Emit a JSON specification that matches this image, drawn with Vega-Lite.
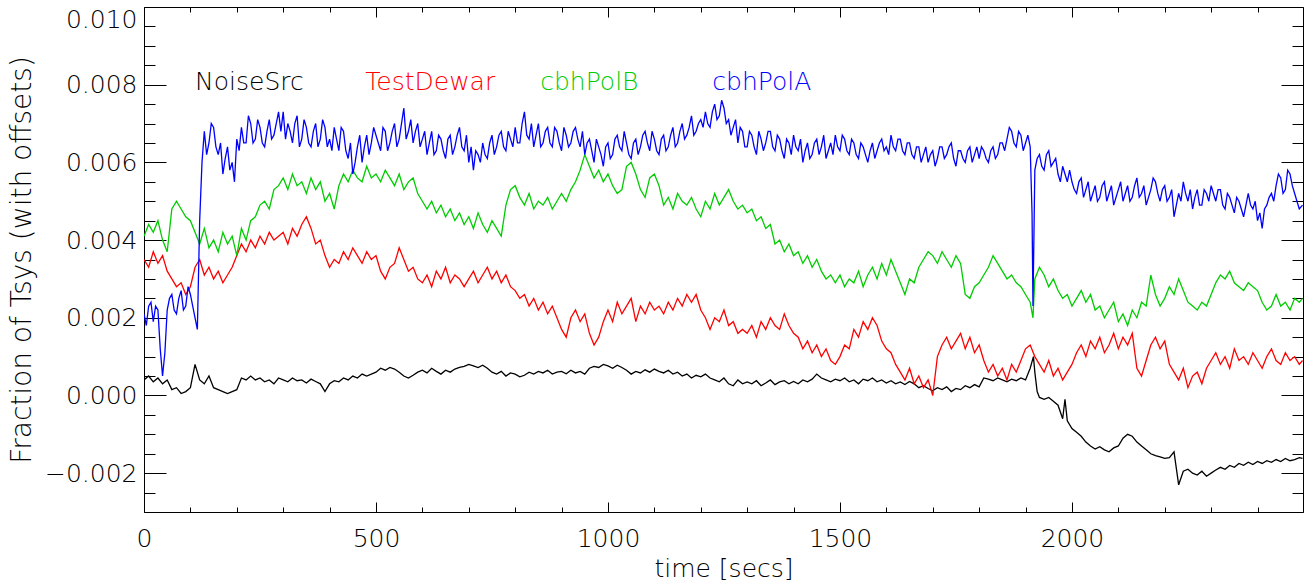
{
"$schema": "https://vega.github.io/schema/vega-lite/v6.json",
"width": 1159, "height": 505,
"autosize": {"type": "none"},
"padding": {"left": 144, "top": 7, "right": 6, "bottom": 75},
"config": {
 "view": {"stroke": "#000", "strokeWidth": 1},
 "axis": {"labelFont": "DejaVu Sans", "titleFont": "DejaVu Sans", "labelFontWeight": 200, "titleFontWeight": 200, "labelColor": "#000", "titleColor": "#000", "tickColor": "#000", "tickWidth": 1, "domain": false, "grid": false, "labelOverlap": false}
},
"layer": [
 {
  "data": {"values": [
{"t":0,"N":0.0004,"T":0.0035,"G":0.0041,"B":0.0021},
{"t":10,"N":0.0005,"T":0.0033,"G":0.0044,"B":0.0023},
{"t":20,"N":0.00035,"T":0.0037,"G":0.0042,"B":0.0019},
{"t":30,"N":0.00045,"T":0.0034,"G":0.0045,"B":0.0022},
{"t":40,"N":0.0003,"T":0.0036,"G":0.004,"B":0.0005},
{"t":50,"N":0.0004,"T":0.0032,"G":0.0037,"B":0.0022},
{"t":60,"N":0.00015,"T":0.003,"G":0.0048,"B":0.0026},
{"t":70,"N":0.0002,"T":0.0028,"G":0.005,"B":0.0021},
{"t":80,"N":0.00005,"T":0.0029,"G":0.0048,"B":0.0027},
{"t":90,"N":0.0001,"T":0.0026,"G":0.0046,"B":0.0023},
{"t":100,"N":0.0002,"T":0.0028,"G":0.0045,"B":0.0026},
{"t":110,"N":0.0008,"T":0.0033,"G":0.0042,"B":0.002},
{"t":120,"N":0.0004,"T":0.0035,"G":0.0039,"B":0.0045},
{"t":130,"N":0.0003,"T":0.0031,"G":0.0043,"B":0.0068},
{"t":140,"N":0.0005,"T":0.0033,"G":0.0038,"B":0.0065},
{"t":150,"N":0.0002,"T":0.003,"G":0.004,"B":0.0069},
{"t":160,"N":0.00015,"T":0.0032,"G":0.0037,"B":0.0062},
{"t":170,"N":0.0001,"T":0.0029,"G":0.0042,"B":0.0057},
{"t":180,"N":0.00005,"T":0.0031,"G":0.0039,"B":0.0064},
{"t":190,"N":0.0001,"T":0.0033,"G":0.0041,"B":0.006},
{"t":200,"N":0.00015,"T":0.0036,"G":0.0036,"B":0.0066},
{"t":210,"N":0.00045,"T":0.0039,"G":0.0043,"B":0.0069},
{"t":220,"N":0.0004,"T":0.0037,"G":0.004,"B":0.0065},
{"t":230,"N":0.0005,"T":0.004,"G":0.0045,"B":0.007},
{"t":240,"N":0.0004,"T":0.0038,"G":0.0046,"B":0.0066},
{"t":250,"N":0.00045,"T":0.0041,"G":0.0049,"B":0.0069},
{"t":260,"N":0.00035,"T":0.0039,"G":0.005,"B":0.0064},
{"t":270,"N":0.0004,"T":0.0042,"G":0.0048,"B":0.0071},
{"t":280,"N":0.0003,"T":0.004,"G":0.0053,"B":0.0067},
{"t":290,"N":0.00045,"T":0.0041,"G":0.0054,"B":0.0073},
{"t":300,"N":0.0004,"T":0.0042,"G":0.0056,"B":0.0073},
{"t":310,"N":0.00035,"T":0.0039,"G":0.0053,"B":0.007},
{"t":320,"N":0.00045,"T":0.0043,"G":0.0057,"B":0.0065},
{"t":330,"N":0.00038,"T":0.0041,"G":0.0054,"B":0.0072},
{"t":340,"N":0.0004,"T":0.0044,"G":0.0055,"B":0.0066},
{"t":350,"N":0.00032,"T":0.0046,"G":0.0052,"B":0.0069},
{"t":360,"N":0.00042,"T":0.0043,"G":0.0056,"B":0.0064},
{"t":370,"N":0.00036,"T":0.0039,"G":0.0053,"B":0.007},
{"t":380,"N":0.0003,"T":0.004,"G":0.0055,"B":0.0066},
{"t":390,"N":0.0001,"T":0.0036,"G":0.005,"B":0.0069},
{"t":400,"N":0.0003,"T":0.0033,"G":0.0052,"B":0.0066},
{"t":410,"N":0.00038,"T":0.0035,"G":0.0048,"B":0.0069},
{"t":420,"N":0.00035,"T":0.0034,"G":0.0054,"B":0.0063},
{"t":430,"N":0.00045,"T":0.0037,"G":0.0057,"B":0.0068},
{"t":440,"N":0.0004,"T":0.0035,"G":0.0055,"B":0.0061},
{"t":450,"N":0.0005,"T":0.0038,"G":0.0058,"B":0.0057},
{"t":460,"N":0.00045,"T":0.0036,"G":0.0056,"B":0.0064},
{"t":470,"N":0.00055,"T":0.0034,"G":0.0055,"B":0.006},
{"t":480,"N":0.0005,"T":0.0037,"G":0.0059,"B":0.0067},
{"t":490,"N":0.00055,"T":0.0035,"G":0.0056,"B":0.0065},
{"t":500,"N":0.0006,"T":0.0036,"G":0.0057,"B":0.0067},
{"t":510,"N":0.0007,"T":0.0032,"G":0.0055,"B":0.0063},
{"t":520,"N":0.00065,"T":0.003,"G":0.0058,"B":0.0068},
{"t":530,"N":0.00072,"T":0.0033,"G":0.0056,"B":0.0065},
{"t":540,"N":0.00068,"T":0.0034,"G":0.0054,"B":0.007},
{"t":550,"N":0.0006,"T":0.0038,"G":0.0057,"B":0.0066},
{"t":560,"N":0.0005,"T":0.0035,"G":0.0053,"B":0.0074},
{"t":570,"N":0.00045,"T":0.0032,"G":0.0055,"B":0.0068},
{"t":580,"N":0.00052,"T":0.0033,"G":0.0056,"B":0.0065},
{"t":590,"N":0.0006,"T":0.003,"G":0.0052,"B":0.007},
{"t":600,"N":0.00065,"T":0.0029,"G":0.005,"B":0.0066},
{"t":610,"N":0.00058,"T":0.0031,"G":0.0048,"B":0.0062},
{"t":620,"N":0.0007,"T":0.0028,"G":0.005,"B":0.0068},
{"t":630,"N":0.00062,"T":0.0032,"G":0.0047,"B":0.0063},
{"t":640,"N":0.00055,"T":0.003,"G":0.0049,"B":0.0066},
{"t":650,"N":0.00065,"T":0.0033,"G":0.0046,"B":0.0061},
{"t":660,"N":0.0006,"T":0.0029,"G":0.0048,"B":0.0067},
{"t":670,"N":0.00068,"T":0.0031,"G":0.0045,"B":0.0064},
{"t":680,"N":0.00072,"T":0.003,"G":0.0047,"B":0.0069},
{"t":690,"N":0.00075,"T":0.0028,"G":0.0044,"B":0.0063},
{"t":700,"N":0.0008,"T":0.003,"G":0.0046,"B":0.006},
{"t":710,"N":0.00076,"T":0.0032,"G":0.0043,"B":0.0058},
{"t":720,"N":0.00072,"T":0.0029,"G":0.0047,"B":0.0062},
{"t":730,"N":0.00078,"T":0.0031,"G":0.0044,"B":0.0065},
{"t":740,"N":0.0007,"T":0.0033,"G":0.0042,"B":0.0061},
{"t":750,"N":0.0006,"T":0.003,"G":0.0045,"B":0.0067},
{"t":760,"N":0.00055,"T":0.0032,"G":0.0043,"B":0.0064},
{"t":770,"N":0.00062,"T":0.0029,"G":0.0041,"B":0.0068},
{"t":780,"N":0.0005,"T":0.0031,"G":0.0049,"B":0.0063},
{"t":790,"N":0.00058,"T":0.0028,"G":0.0053,"B":0.0066},
{"t":800,"N":0.00055,"T":0.0027,"G":0.0054,"B":0.0069},
{"t":810,"N":0.00048,"T":0.0025,"G":0.0051,"B":0.0065},
{"t":820,"N":0.00052,"T":0.0026,"G":0.0049,"B":0.0073},
{"t":830,"N":0.0006,"T":0.0023,"G":0.0052,"B":0.0066},
{"t":840,"N":0.00055,"T":0.0025,"G":0.0048,"B":0.0064},
{"t":850,"N":0.00062,"T":0.0022,"G":0.005,"B":0.007},
{"t":860,"N":0.00058,"T":0.0024,"G":0.0049,"B":0.0065},
{"t":870,"N":0.00065,"T":0.0021,"G":0.0051,"B":0.0069},
{"t":880,"N":0.00055,"T":0.0023,"G":0.0048,"B":0.0064},
{"t":890,"N":0.0006,"T":0.002,"G":0.005,"B":0.0068},
{"t":900,"N":0.00062,"T":0.0017,"G":0.0052,"B":0.0063},
{"t":910,"N":0.00056,"T":0.0015,"G":0.005,"B":0.0067},
{"t":920,"N":0.00065,"T":0.002,"G":0.0053,"B":0.0065},
{"t":930,"N":0.00058,"T":0.0022,"G":0.0055,"B":0.0069},
{"t":940,"N":0.00062,"T":0.0019,"G":0.0058,"B":0.0064},
{"t":950,"N":0.00055,"T":0.0021,"G":0.0062,"B":0.0062},
{"t":960,"N":0.0007,"T":0.0016,"G":0.0059,"B":0.0066},
{"t":970,"N":0.00075,"T":0.0013,"G":0.0056,"B":0.006},
{"t":980,"N":0.00072,"T":0.0015,"G":0.0058,"B":0.0064},
{"t":990,"N":0.0008,"T":0.0019,"G":0.0055,"B":0.0059},
{"t":1000,"N":0.00076,"T":0.0022,"G":0.0057,"B":0.0065},
{"t":1010,"N":0.0007,"T":0.0019,"G":0.0054,"B":0.0062},
{"t":1020,"N":0.00078,"T":0.0024,"G":0.0052,"B":0.0067},
{"t":1030,"N":0.00072,"T":0.0021,"G":0.0053,"B":0.0063},
{"t":1040,"N":0.00065,"T":0.0023,"G":0.0059,"B":0.0065},
{"t":1050,"N":0.00055,"T":0.0025,"G":0.006,"B":0.0061},
{"t":1060,"N":0.00062,"T":0.0019,"G":0.0057,"B":0.0066},
{"t":1070,"N":0.00058,"T":0.0023,"G":0.0053,"B":0.0064},
{"t":1080,"N":0.00066,"T":0.0021,"G":0.0051,"B":0.0068},
{"t":1090,"N":0.0006,"T":0.0024,"G":0.0056,"B":0.0063},
{"t":1100,"N":0.00068,"T":0.0022,"G":0.0057,"B":0.0066},
{"t":1110,"N":0.00062,"T":0.0023,"G":0.0054,"B":0.0062},
{"t":1120,"N":0.00058,"T":0.0021,"G":0.0049,"B":0.0067},
{"t":1130,"N":0.00065,"T":0.0024,"G":0.0051,"B":0.0064},
{"t":1140,"N":0.00055,"T":0.0022,"G":0.0048,"B":0.0069},
{"t":1150,"N":0.0006,"T":0.0025,"G":0.0052,"B":0.0065},
{"t":1160,"N":0.0005,"T":0.0023,"G":0.005,"B":0.007},
{"t":1170,"N":0.00055,"T":0.0026,"G":0.0049,"B":0.0067},
{"t":1180,"N":0.00045,"T":0.0024,"G":0.0051,"B":0.0072},
{"t":1190,"N":0.00052,"T":0.0026,"G":0.0048,"B":0.0068},
{"t":1200,"N":0.00048,"T":0.0022,"G":0.0046,"B":0.0071},
{"t":1210,"N":0.00055,"T":0.002,"G":0.005,"B":0.0073},
{"t":1220,"N":0.00045,"T":0.0017,"G":0.0048,"B":0.0069},
{"t":1230,"N":0.0004,"T":0.002,"G":0.0052,"B":0.0075},
{"t":1240,"N":0.00035,"T":0.0019,"G":0.0049,"B":0.0072},
{"t":1250,"N":0.00045,"T":0.0022,"G":0.0051,"B":0.0074},
{"t":1260,"N":0.0003,"T":0.0018,"G":0.0053,"B":0.0071},
{"t":1270,"N":0.00025,"T":0.0019,"G":0.005,"B":0.0069},
{"t":1280,"N":0.0004,"T":0.0016,"G":0.0048,"B":0.0065},
{"t":1290,"N":0.0003,"T":0.0017,"G":0.0049,"B":0.0068},
{"t":1300,"N":0.00035,"T":0.0016,"G":0.0047,"B":0.0064},
{"t":1310,"N":0.0003,"T":0.0018,"G":0.0048,"B":0.0067},
{"t":1320,"N":0.00038,"T":0.0015,"G":0.0045,"B":0.0062},
{"t":1330,"N":0.00025,"T":0.0019,"G":0.0046,"B":0.0066},
{"t":1340,"N":0.00032,"T":0.0017,"G":0.0043,"B":0.0065},
{"t":1350,"N":0.0004,"T":0.002,"G":0.0044,"B":0.0068},
{"t":1360,"N":0.00028,"T":0.0018,"G":0.0039,"B":0.0063},
{"t":1370,"N":0.00035,"T":0.0017,"G":0.004,"B":0.0066},
{"t":1380,"N":0.00038,"T":0.0021,"G":0.0037,"B":0.0061},
{"t":1390,"N":0.0003,"T":0.0018,"G":0.0039,"B":0.0065},
{"t":1400,"N":0.00036,"T":0.0016,"G":0.0036,"B":0.0067},
{"t":1410,"N":0.0003,"T":0.0015,"G":0.0037,"B":0.0063},
{"t":1420,"N":0.0004,"T":0.0012,"G":0.0034,"B":0.006},
{"t":1430,"N":0.00035,"T":0.0014,"G":0.0036,"B":0.0065},
{"t":1440,"N":0.00042,"T":0.0011,"G":0.0033,"B":0.0062},
{"t":1450,"N":0.00055,"T":0.0013,"G":0.0035,"B":0.0066},
{"t":1460,"N":0.00045,"T":0.001,"G":0.0032,"B":0.0064},
{"t":1470,"N":0.0004,"T":0.0012,"G":0.003,"B":0.0061},
{"t":1480,"N":0.00035,"T":0.0009,"G":0.0031,"B":0.0065},
{"t":1490,"N":0.00042,"T":0.0008,"G":0.0029,"B":0.0067},
{"t":1500,"N":0.00038,"T":0.001,"G":0.0031,"B":0.0063},
{"t":1510,"N":0.00045,"T":0.0013,"G":0.0028,"B":0.0066},
{"t":1520,"N":0.00035,"T":0.0012,"G":0.003,"B":0.0062},
{"t":1530,"N":0.0004,"T":0.0017,"G":0.0029,"B":0.0065},
{"t":1540,"N":0.0003,"T":0.0015,"G":0.0032,"B":0.0061},
{"t":1550,"N":0.00042,"T":0.0019,"G":0.0028,"B":0.0064},
{"t":1560,"N":0.00038,"T":0.0017,"G":0.0031,"B":0.006},
{"t":1570,"N":0.00045,"T":0.002,"G":0.0033,"B":0.0065},
{"t":1580,"N":0.00035,"T":0.0018,"G":0.003,"B":0.0063},
{"t":1590,"N":0.0004,"T":0.0014,"G":0.0034,"B":0.0066},
{"t":1600,"N":0.00032,"T":0.0012,"G":0.0031,"B":0.0064},
{"t":1610,"N":0.00038,"T":0.0011,"G":0.0035,"B":0.0067},
{"t":1620,"N":0.0003,"T":0.0008,"G":0.0032,"B":0.0063},
{"t":1630,"N":0.00035,"T":0.0006,"G":0.0029,"B":0.0066},
{"t":1640,"N":0.00028,"T":0.0004,"G":0.0026,"B":0.0062},
{"t":1650,"N":0.00036,"T":0.0007,"G":0.003,"B":0.0065},
{"t":1660,"N":0.0003,"T":0.0003,"G":0.0029,"B":0.0061},
{"t":1670,"N":0.0002,"T":0.0005,"G":0.0033,"B":0.0064},
{"t":1680,"N":0.00025,"T":0.0002,"G":0.0035,"B":0.0062},
{"t":1690,"N":0.00018,"T":0.0004,"G":0.0037,"B":0.006},
{"t":1700,"N":0.00012,"T":0.0,"G":0.0036,"B":0.0063},
{"t":1710,"N":0.0002,"T":0.001,"G":0.0034,"B":0.0061},
{"t":1720,"N":0.00015,"T":0.0013,"G":0.0037,"B":0.0064},
{"t":1730,"N":0.00022,"T":0.0015,"G":0.0035,"B":0.0062},
{"t":1740,"N":0.0001,"T":0.0012,"G":0.0033,"B":0.0065},
{"t":1750,"N":0.00018,"T":0.0014,"G":0.0036,"B":0.0059},
{"t":1760,"N":0.00015,"T":0.0016,"G":0.0034,"B":0.0063},
{"t":1770,"N":0.00025,"T":0.0012,"G":0.0026,"B":0.006},
{"t":1780,"N":0.0002,"T":0.0015,"G":0.0025,"B":0.0064},
{"t":1790,"N":0.00028,"T":0.0011,"G":0.0028,"B":0.0062},
{"t":1800,"N":0.00022,"T":0.0013,"G":0.0029,"B":0.0061},
{"t":1810,"N":0.00045,"T":0.0009,"G":0.0031,"B":0.0063},
{"t":1820,"N":0.00042,"T":0.0006,"G":0.0033,"B":0.006},
{"t":1830,"N":0.00038,"T":0.0008,"G":0.0036,"B":0.0064},
{"t":1840,"N":0.00045,"T":0.0005,"G":0.0034,"B":0.0062},
{"t":1850,"N":0.0004,"T":0.0007,"G":0.0032,"B":0.0065},
{"t":1860,"N":0.00035,"T":0.0004,"G":0.003,"B":0.0066},
{"t":1870,"N":0.00042,"T":0.0008,"G":0.0031,"B":0.0068},
{"t":1880,"N":0.00038,"T":0.0006,"G":0.0029,"B":0.0064},
{"t":1890,"N":0.00045,"T":0.0009,"G":0.0028,"B":0.0067},
{"t":1900,"N":0.0004,"T":0.0012,"G":0.0026,"B":0.0065},
{"t":1910,"N":0.0007,"T":0.0013,"G":0.0024,"B":0.0064},
{"t":1914,"B":0.0047},
{"t":1916,"B":0.0023,"G":0.002},
{"t":1917,"N":0.001},
{"t":1920,"N":0.0006,"T":0.001,"G":0.003,"B":0.0058},
{"t":1925,"N":0.0001},
{"t":1930,"N":-0.00005,"T":0.0008,"G":0.0033,"B":0.0062},
{"t":1940,"N":-0.0001,"T":0.0006,"G":0.0031,"B":0.0058},
{"t":1950,"N":-0.00005,"T":0.0009,"G":0.0028,"B":0.0063},
{"t":1960,"N":-0.00015,"T":0.0005,"G":0.003,"B":0.006},
{"t":1970,"N":-0.00025,"T":0.0007,"G":0.0027,"B":0.0057},
{"t":1980,"N":-0.0006,"T":0.0004,"G":0.0025,"B":0.0059},
{"t":1985,"N":-0.0001},
{"t":1990,"N":-0.00065,"T":0.0006,"G":0.0026,"B":0.0055},
{"t":2000,"N":-0.00085,"T":0.0008,"G":0.0023,"B":0.0055},
{"t":2010,"N":-0.00095,"T":0.0011,"G":0.0025,"B":0.0052},
{"t":2020,"N":-0.00105,"T":0.0013,"G":0.0027,"B":0.0056},
{"t":2030,"N":-0.0012,"T":0.001,"G":0.0024,"B":0.0053},
{"t":2040,"N":-0.0013,"T":0.0014,"G":0.0026,"B":0.005},
{"t":2050,"N":-0.00138,"T":0.0012,"G":0.0022,"B":0.0054},
{"t":2060,"N":-0.00132,"T":0.0015,"G":0.0023,"B":0.0051},
{"t":2070,"N":-0.0014,"T":0.0011,"G":0.002,"B":0.0055},
{"t":2080,"N":-0.00145,"T":0.0013,"G":0.0022,"B":0.0052},
{"t":2090,"N":-0.00135,"T":0.0016,"G":0.0024,"B":0.0049},
{"t":2100,"N":-0.0013,"T":0.0012,"G":0.0019,"B":0.0053},
{"t":2110,"N":-0.0011,"T":0.0015,"G":0.0021,"B":0.005},
{"t":2120,"N":-0.001,"T":0.0013,"G":0.0018,"B":0.0054},
{"t":2130,"N":-0.00105,"T":0.0016,"G":0.0022,"B":0.0051},
{"t":2140,"N":-0.0012,"T":0.0007,"G":0.002,"B":0.0056},
{"t":2150,"N":-0.0013,"T":0.0005,"G":0.0024,"B":0.0052},
{"t":2160,"N":-0.0014,"T":0.0009,"G":0.0023,"B":0.0049},
{"t":2170,"N":-0.0015,"T":0.0013,"G":0.0031,"B":0.0053},
{"t":2180,"N":-0.00155,"T":0.0015,"G":0.0026,"B":0.0055},
{"t":2190,"N":-0.00158,"T":0.0012,"G":0.0023,"B":0.005},
{"t":2200,"N":-0.00162,"T":0.0014,"G":0.0025,"B":0.0054},
{"t":2210,"N":-0.0016,"T":0.0008,"G":0.0028,"B":0.0051},
{"t":2220,"N":-0.00145,"T":0.0006,"G":0.0026,"B":0.0046},
{"t":2230,"N":-0.0023,"T":0.0004,"G":0.003,"B":0.0052},
{"t":2240,"N":-0.00195,"T":0.0007,"G":0.0027,"B":0.0055},
{"t":2250,"N":-0.0019,"T":0.0002,"G":0.0024,"B":0.005},
{"t":2260,"N":-0.002,"T":0.0005,"G":0.0023,"B":0.0048},
{"t":2270,"N":-0.00205,"T":0.0006,"G":0.0022,"B":0.0053},
{"t":2280,"N":-0.00195,"T":0.0003,"G":0.0024,"B":0.0049},
{"t":2290,"N":-0.00208,"T":0.0007,"G":0.0023,"B":0.0052},
{"t":2300,"N":-0.002,"T":0.0009,"G":0.0026,"B":0.0054},
{"t":2310,"N":-0.00192,"T":0.0011,"G":0.0029,"B":0.005},
{"t":2320,"N":-0.00185,"T":0.0008,"G":0.0031,"B":0.0053},
{"t":2330,"N":-0.0019,"T":0.001,"G":0.003,"B":0.0048},
{"t":2340,"N":-0.0018,"T":0.0007,"G":0.0032,"B":0.0051},
{"t":2350,"N":-0.00185,"T":0.0012,"G":0.0029,"B":0.0047},
{"t":2360,"N":-0.00175,"T":0.0009,"G":0.0028,"B":0.005},
{"t":2370,"N":-0.0018,"T":0.001,"G":0.0027,"B":0.0046},
{"t":2380,"N":-0.00172,"T":0.0008,"G":0.0029,"B":0.0052},
{"t":2390,"N":-0.00178,"T":0.0011,"G":0.0028,"B":0.0048},
{"t":2400,"N":-0.0017,"T":0.0009,"G":0.0027,"B":0.0045},
{"t":2410,"N":-0.00175,"T":0.0007,"G":0.0024,"B":0.0043},
{"t":2420,"N":-0.00168,"T":0.001,"G":0.0022,"B":0.0049},
{"t":2430,"N":-0.00172,"T":0.0012,"G":0.0023,"B":0.0052},
{"t":2440,"N":-0.00165,"T":0.0009,"G":0.0026,"B":0.0054},
{"t":2450,"N":-0.0017,"T":0.0008,"G":0.0023,"B":0.0056},
{"t":2460,"N":-0.00162,"T":0.0011,"G":0.0024,"B":0.0053},
{"t":2470,"N":-0.00168,"T":0.0009,"G":0.0022,"B":0.0057},
{"t":2480,"N":-0.00165,"T":0.001,"G":0.0025,"B":0.0052},
{"t":2490,"N":-0.0016,"T":0.0008,"G":0.0024,"B":0.0048},
{"t":2497,"N":-0.00162,"T":0.0009,"G":0.0025,"B":0.0049},
{"t":5,"B":0.0018},{"t":15,"B":0.0024},{"t":25,"B":0.0023},{"t":35,"B":0.0012},{"t":45,"B":0.0011},
{"t":55,"B":0.0025},{"t":65,"B":0.0022},{"t":75,"B":0.0025},{"t":85,"B":0.0022},{"t":95,"B":0.0028},
{"t":105,"B":0.0023},{"t":115,"B":0.0017},{"t":125,"B":0.006},{"t":135,"B":0.0062},{"t":145,"B":0.007},
{"t":155,"B":0.0064},{"t":165,"B":0.0065},{"t":175,"B":0.0061},{"t":185,"B":0.0058},{"t":195,"B":0.0055},
{"t":205,"B":0.0063},{"t":215,"B":0.0065},{"t":225,"B":0.0072},{"t":235,"B":0.0065},{"t":245,"B":0.0071},
{"t":255,"B":0.0065},{"t":265,"B":0.0068},{"t":275,"B":0.0066},{"t":285,"B":0.007},{"t":295,"B":0.0068},
{"t":305,"B":0.0066},{"t":315,"B":0.0068},{"t":325,"B":0.007},{"t":335,"B":0.0064},{"t":345,"B":0.0071},
{"t":355,"B":0.0065},{"t":365,"B":0.0068},{"t":375,"B":0.0064},{"t":385,"B":0.0071},{"t":395,"B":0.0064},
{"t":405,"B":0.0063},{"t":415,"B":0.0066},{"t":425,"B":0.0069},{"t":435,"B":0.0063},{"t":445,"B":0.0065},
{"t":455,"B":0.006},{"t":465,"B":0.0067},{"t":475,"B":0.0064},{"t":485,"B":0.0062},{"t":495,"B":0.0069},
{"t":505,"B":0.0065},{"t":515,"B":0.0069},{"t":525,"B":0.0063},{"t":535,"B":0.0068},{"t":545,"B":0.0064},
{"t":555,"B":0.007},{"t":565,"B":0.0066},{"t":575,"B":0.0071},{"t":585,"B":0.0068},{"t":595,"B":0.0064},
{"t":605,"B":0.0068},{"t":615,"B":0.0065},{"t":625,"B":0.0062},{"t":635,"B":0.0067},{"t":645,"B":0.0063},
{"t":655,"B":0.0066},{"t":665,"B":0.0062},{"t":675,"B":0.0067},{"t":685,"B":0.0064},{"t":695,"B":0.0067},
{"t":705,"B":0.0064},{"t":715,"B":0.0063},{"t":725,"B":0.006},{"t":735,"B":0.0062},{"t":745,"B":0.0065},
{"t":755,"B":0.0062},{"t":765,"B":0.0067},{"t":775,"B":0.0064},{"t":785,"B":0.0068},{"t":795,"B":0.0064},
{"t":805,"B":0.0065},{"t":815,"B":0.007},{"t":825,"B":0.0067},{"t":835,"B":0.007},{"t":845,"B":0.0067},
{"t":855,"B":0.0064},{"t":865,"B":0.0068},{"t":875,"B":0.0065},{"t":885,"B":0.0069},{"t":895,"B":0.0065},
{"t":905,"B":0.0069},{"t":915,"B":0.0064},{"t":925,"B":0.0068},{"t":935,"B":0.0066},{"t":945,"B":0.0068},
{"t":955,"B":0.0065},{"t":965,"B":0.0063},{"t":975,"B":0.0066},{"t":985,"B":0.0062},{"t":995,"B":0.0064},
{"t":1005,"B":0.0061},{"t":1015,"B":0.0066},{"t":1025,"B":0.0064},{"t":1035,"B":0.0068},{"t":1045,"B":0.0062},
{"t":1055,"B":0.0065},{"t":1065,"B":0.0062},{"t":1075,"B":0.0067},{"t":1085,"B":0.0065},{"t":1095,"B":0.0068},
{"t":1105,"B":0.0063},{"t":1115,"B":0.0066},{"t":1125,"B":0.0063},{"t":1135,"B":0.0067},{"t":1145,"B":0.0064},
{"t":1155,"B":0.0068},{"t":1165,"B":0.0066},{"t":1175,"B":0.0069},{"t":1185,"B":0.0067},{"t":1195,"B":0.007},
{"t":1205,"B":0.0069},{"t":1215,"B":0.007},{"t":1225,"B":0.0073},{"t":1235,"B":0.0071},{"t":1245,"B":0.0076},
{"t":1255,"B":0.007},{"t":1265,"B":0.0067},{"t":1275,"B":0.0071},{"t":1285,"B":0.0069},{"t":1295,"B":0.0064},
{"t":1305,"B":0.0068},{"t":1315,"B":0.0064},{"t":1325,"B":0.0068},{"t":1335,"B":0.0063},{"t":1345,"B":0.0068},
{"t":1355,"B":0.0064},{"t":1365,"B":0.0067},{"t":1375,"B":0.0063},{"t":1385,"B":0.0066},{"t":1395,"B":0.0062},
{"t":1405,"B":0.0064},{"t":1415,"B":0.0066},{"t":1425,"B":0.0063},{"t":1435,"B":0.0061},{"t":1445,"B":0.0065},
{"t":1455,"B":0.0062},{"t":1465,"B":0.0067},{"t":1475,"B":0.0063},{"t":1485,"B":0.0062},{"t":1495,"B":0.0064},
{"t":1505,"B":0.0067},{"t":1515,"B":0.0063},{"t":1525,"B":0.0066},{"t":1535,"B":0.0062},{"t":1545,"B":0.0065},
{"t":1555,"B":0.0062},{"t":1565,"B":0.0063},{"t":1575,"B":0.0061},{"t":1585,"B":0.0065},{"t":1595,"B":0.0063},
{"t":1605,"B":0.0062},{"t":1615,"B":0.0064},{"t":1625,"B":0.0066},{"t":1635,"B":0.0063},{"t":1645,"B":0.0065},
{"t":1655,"B":0.0062},{"t":1665,"B":0.0064},{"t":1675,"B":0.006},{"t":1685,"B":0.0064},{"t":1695,"B":0.0062},
{"t":1705,"B":0.0059},{"t":1715,"B":0.0064},{"t":1725,"B":0.0061},{"t":1735,"B":0.0064},{"t":1745,"B":0.0061},
{"t":1755,"B":0.0063},{"t":1765,"B":0.0061},{"t":1775,"B":0.0063},{"t":1785,"B":0.006},{"t":1795,"B":0.0064},
{"t":1805,"B":0.0064},{"t":1815,"B":0.0061},{"t":1825,"B":0.0063},{"t":1835,"B":0.0061},{"t":1845,"B":0.0065},
{"t":1855,"B":0.0063},{"t":1865,"B":0.0069},{"t":1875,"B":0.0065},{"t":1885,"B":0.0068},{"t":1895,"B":0.0063},
{"t":1905,"B":0.0067},{"t":1925,"B":0.0061},{"t":1935,"B":0.0059},{"t":1945,"B":0.0062},{"t":1955,"B":0.0059},
{"t":1965,"B":0.0061},{"t":1975,"B":0.0055},{"t":1985,"B":0.0057},{"t":1995,"B":0.0058},
{"t":2005,"B":0.0053},{"t":2015,"B":0.0055},{"t":2025,"B":0.0051},{"t":2035,"B":0.0055},{"t":2045,"B":0.0052},
{"t":2055,"B":0.005},{"t":2065,"B":0.0054},{"t":2075,"B":0.005},{"t":2085,"B":0.0054},{"t":2095,"B":0.0051},
{"t":2105,"B":0.0055},{"t":2115,"B":0.0052},{"t":2125,"B":0.005},{"t":2135,"B":0.0054},{"t":2145,"B":0.0051},
{"t":2155,"B":0.0054},{"t":2165,"B":0.0051},{"t":2175,"B":0.0056},{"t":2185,"B":0.0052},{"t":2195,"B":0.0053},
{"t":2205,"B":0.005},{"t":2215,"B":0.0053},{"t":2225,"B":0.0049},{"t":2235,"B":0.005},{"t":2245,"B":0.0052},
{"t":2255,"B":0.0053},{"t":2265,"B":0.0051},{"t":2275,"B":0.0049},{"t":2285,"B":0.0053},{"t":2295,"B":0.005},
{"t":2305,"B":0.0052},{"t":2315,"B":0.0053},{"t":2325,"B":0.0049},{"t":2335,"B":0.0052},{"t":2345,"B":0.0049},
{"t":2355,"B":0.0051},{"t":2365,"B":0.0048},{"t":2375,"B":0.0049},{"t":2385,"B":0.0049},{"t":2395,"B":0.005},
{"t":2405,"B":0.0047},{"t":2415,"B":0.0048},{"t":2425,"B":0.0051},{"t":2435,"B":0.005},{"t":2445,"B":0.0057},
{"t":2455,"B":0.0052},{"t":2465,"B":0.0058},{"t":2475,"B":0.0054},{"t":2485,"B":0.005}
  ]},
  "transform": [
   {"fold": ["N", "T", "G", "B"], "as": ["key", "v"]},
   {"filter": "isValid(datum.v)"}
  ],
  "mark": {"type": "line", "strokeWidth": 1.3, "clip": true},
  "encoding": {
   "x": {"field": "t", "type": "quantitative", "scale": {"domain": [0, 2498], "nice": false, "zero": false},
    "axis": {"orient": "bottom", "values": [0,100,200,300,400,500,600,700,800,900,1000,1100,1200,1300,1400,1500,1600,1700,1800,1900,2000,2100,2200,2300,2400],
     "format": "d", "labelExpr": "datum.value % 500 === 0 ? datum.label : ''",
     "tickSize": {"condition": {"test": "datum.value % 500 === 0", "value": -10}, "value": -5},
     "labelPadding": 24, "labelFontSize": 25, "labelFlush": false,
     "title": "time [secs]", "titleFontSize": 25, "titlePadding": 0}},
   "y": {"field": "v", "type": "quantitative", "scale": {"domain": [-0.003, 0.01], "nice": false, "zero": false},
    "axis": {"orient": "left", "values": [-0.003,-0.0025,-0.002,-0.0015,-0.001,-0.0005,0,0.0005,0.001,0.0015,0.002,0.0025,0.003,0.0035,0.004,0.0045,0.005,0.0055,0.006,0.0065,0.007,0.0075,0.008,0.0085,0.009,0.0095,0.01],
     "format": ".3f", "labelExpr": "round(datum.value*2000) % 4 === 0 ? datum.label : ''",
     "tickSize": {"condition": {"test": "round(datum.value*2000) % 4 === 0", "value": -22}, "value": -11},
     "labelPadding": 29, "labelFontSize": 25, "labelFlush": true,
     "title": "Fraction of Tsys (with offsets)", "titleFontSize": 28, "titlePadding": 8}},
   "color": {"field": "key", "type": "nominal", "scale": {"domain": ["N", "T", "G", "B"], "range": ["#000000", "#ff0000", "#00cc00", "#0000ff"]}, "legend": null}
  }
 },
 {
  "data": {"values": [
   {"t": 110, "v": 0.00808, "key": "N", "label": "NoiseSrc"},
   {"t": 477, "v": 0.00808, "key": "T", "label": "TestDewar"},
   {"t": 854, "v": 0.00808, "key": "G", "label": "cbhPolB"},
   {"t": 1225, "v": 0.00808, "key": "B", "label": "cbhPolA"}
  ]},
  "mark": {"type": "text", "align": "left", "baseline": "middle", "font": "DejaVu Sans", "fontWeight": 200, "fontSize": 25},
  "encoding": {
   "x": {"field": "t", "type": "quantitative",
    "axis": {"orient": "top", "values": [0,100,200,300,400,500,600,700,800,900,1000,1100,1200,1300,1400,1500,1600,1700,1800,1900,2000,2100,2200,2300,2400],
     "labels": false, "title": null,
     "tickSize": {"condition": {"test": "datum.value % 500 === 0", "value": -10}, "value": -5}}},
   "y": {"field": "v", "type": "quantitative",
    "axis": {"orient": "right", "values": [-0.003,-0.0025,-0.002,-0.0015,-0.001,-0.0005,0,0.0005,0.001,0.0015,0.002,0.0025,0.003,0.0035,0.004,0.0045,0.005,0.0055,0.006,0.0065,0.007,0.0075,0.008,0.0085,0.009,0.0095,0.01],
     "labels": false, "title": null,
     "tickSize": {"condition": {"test": "round(datum.value*2000) % 4 === 0", "value": -22}, "value": -11}}},
   "text": {"field": "label", "type": "nominal"},
   "color": {"field": "key", "type": "nominal", "legend": null}
  }
 }
],
"resolve": {"axis": {"x": "independent", "y": "independent"}}
}
